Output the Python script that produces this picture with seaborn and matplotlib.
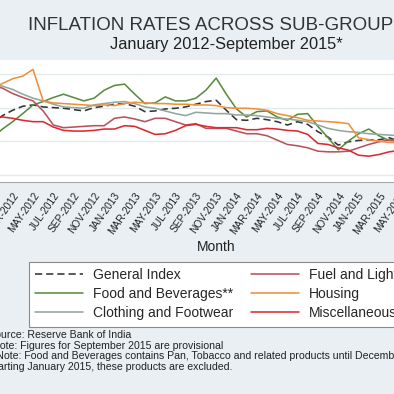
import numpy as np
import pandas as pd
import matplotlib.pyplot as plt
import seaborn as sns

# monthly CPI inflation (%), Jan 2012 - Sep 2015
general = [7.7, 8.8, 9.6, 10.2, 10.4, 10.1, 10.0, 9.9, 9.7, 9.5, 10.0, 10.2,
           10.5, 10.6, 10.2, 9.4, 9.5, 9.8, 9.9, 10.1, 10.5, 10.9, 11.1, 9.6,
           8.2, 8.1, 8.4, 8.2, 7.9, 7.4, 7.9, 7.5, 6.4, 5.6, 4.4, 4.9,
           5.1, 5.2, 5.2, 5.5, 5.0, 5.4, 3.8, 3.7, 4.4]
food = [5.5, 6.8, 7.9, 9.1, 10.4, 10.9, 11.5, 12.0, 11.5, 11.0, 11.4, 12.6,
        13.3, 13.5, 12.0, 10.6, 10.7, 11.6, 11.0, 11.0, 11.4, 12.6, 14.4, 12.0,
        9.8, 8.6, 9.4, 9.5, 8.6, 8.1, 9.0, 9.1, 7.2, 5.5, 3.7, 5.0,
        6.1, 6.8, 5.8, 5.1, 5.0, 5.5, 2.2, 2.2, 3.9]
clothing = [13.5, 13.2, 12.7, 12.0, 11.4, 11.0, 10.5, 10.1, 10.0, 9.9, 10.4, 10.6,
            10.8, 10.9, 10.6, 10.1, 9.9, 9.5, 9.1, 8.8, 9.3, 9.2, 9.1, 9.1,
            8.9, 8.9, 8.8, 8.6, 8.4, 8.3, 8.1, 7.9, 7.4, 6.9, 6.6, 6.4,
            6.3, 6.1, 6.0, 5.9, 5.8, 5.8, 5.8, 5.8, 5.8]
fuel = [13.3, 12.9, 12.1, 11.5, 11.0, 9.5, 7.4, 7.0, 7.1, 7.2, 7.3, 7.3,
        8.4, 8.6, 8.3, 7.9, 8.4, 8.4, 7.9, 7.4, 7.6, 6.9, 6.9, 6.9,
        6.5, 6.1, 6.1, 5.8, 5.15, 4.5, 4.3, 4.0, 3.5, 3.4, 3.4, 3.5,
        4.0, 4.5, 4.9, 5.15, 5.3, 5.6, 5.8, 5.9, 5.9]
housing = [12.8, 13.6, 14.3, 14.7, 15.7, 11.0, 10.7, 10.6, 10.5, 10.4, 10.3, 10.4,
           10.3, 10.6, 10.8, 10.7, 10.6, 10.6, 10.5, 10.5, 10.4, 10.4, 10.3, 10.0,
           9.9, 9.9, 9.8, 9.6, 9.1, 8.8, 8.5, 8.1, 8.0, 7.9, 7.8, 7.6,
           5.5, 5.2, 5.0, 4.8, 4.8, 4.8, 4.8, 4.7, 4.7]
misc = [8.7, 8.6, 8.4, 8.1, 7.9, 7.9, 7.1, 6.6, 6.5, 6.5, 6.6, 6.8,
        6.8, 7.3, 7.2, 6.6, 6.0, 6.1, 6.6, 7.3, 7.5, 7.2, 7.0, 7.0,
        7.0, 6.7, 6.7, 6.9, 6.8, 6.6, 6.5, 6.0, 4.65, 4.5, 4.0, 3.65,
        2.9, 2.75, 3.0, 3.4, 3.6, 3.8, 3.9, 3.9, 4.0]

names = ["General Index", "Food and Beverages**", "Clothing and Footwear",
         "Fuel and Light", "Housing", "Miscellaneous"]
colors = ["#333333", "#5b8c3e", "#8fa8a0", "#b9525c", "#f0903a", "#dc2a30"]

months = pd.date_range("2012-01-01", "2015-09-01", freq="MS")
tick_labels = [d.strftime("%b-%Y").upper() for d in months[::2]]

df = pd.DataFrame({"m": np.arange(len(months)),
                   names[0]: general, names[1]: food, names[2]: clothing,
                   names[3]: fuel, names[4]: housing, names[5]: misc})
df = df.melt(id_vars="m", var_name="series", value_name="rate")

sns.set_style("white")
plt.rcParams["font.family"] = ["Liberation Sans", "DejaVu Sans"]

bg = "#e9eff2"
W = 394.0
fig = plt.figure(figsize=(3.94, 3.94), dpi=100, facecolor=bg)
# plot area is wider than the (cropped) picture
x0, x1 = -7.7, 440.0
y_top, y_bot = 60.0, 182.0
ax = fig.add_axes([x0 / W, 1 - y_bot / W, (x1 - x0) / W, (y_bot - y_top) / W])
ax.set_facecolor("white")

dashes = {n: "" for n in names}
dashes[names[0]] = (4.5, 2.5)
sns.lineplot(data=df, x="m", y="rate", hue="series", style="series",
             hue_order=names, style_order=names, palette=colors, dashes=dashes,
             linewidth=1.15, ax=ax)

ax.set_xlim(0, 44)
ax.set_ylim(-1.1, 17.1)
ax.set_yticks([0, 5, 10, 15])
ax.yaxis.grid(True, color="#e3eaec", linewidth=1)
ax.set_xticks(np.arange(0, 45, 2))
ax.set_xticklabels(tick_labels, rotation=55, ha="right", va="top",
                   rotation_mode="anchor", fontsize=7.3, color="#222222")
ax.tick_params(axis="x", direction="out", length=4, width=0.8, color="#9a9a9a", pad=2)
for s in ["top", "right", "left"]:
    ax.spines[s].set_visible(False)
ax.spines["bottom"].set_color("#a8a8a8")
ax.set_xlabel("")
ax.set_ylabel("")
fig.text(216 / W, 1 - 247 / W, "Month", ha="center", va="center", fontsize=10, color="#222222")

sns.move_legend(ax, "upper left", bbox_to_anchor=(29 / W, 1 - 262 / W),
                bbox_transform=fig.transFigure, ncol=2, title=None, frameon=True,
                fancybox=False, edgecolor="#8a8a8a", fontsize=10, borderaxespad=0,
                handlelength=3.45, handletextpad=0.72, columnspacing=1.25,
                labelspacing=0.36, borderpad=0.45, framealpha=1)
ax.get_legend().get_frame().set_linewidth(0.8)

fig.text(28 / W, 1 - 26 / W, "INFLATION RATES ACROSS SUB-GROUPS", ha="left", va="center",
         fontsize=13.5, color="#333333")
fig.text(110 / W, 1 - 45 / W, "January 2012-September 2015*", ha="left", va="center",
         fontsize=11.8, color="#222222")

notes = ["Source: Reserve Bank of India",
         "*Note: Figures for September 2015 are provisional",
         "**Note: Food and Beverages contains Pan, Tobacco and related products until December 2014.",
         "Starting January 2015, these products are excluded."]
for i, t in enumerate(notes):
    fig.text(-12 / W, 1 - (335 + 10.6 * i) / W, t, ha="left", va="center",
             fontsize=7.6, color="#222222")

fig.savefig("out.png", dpi=100, facecolor=bg)
